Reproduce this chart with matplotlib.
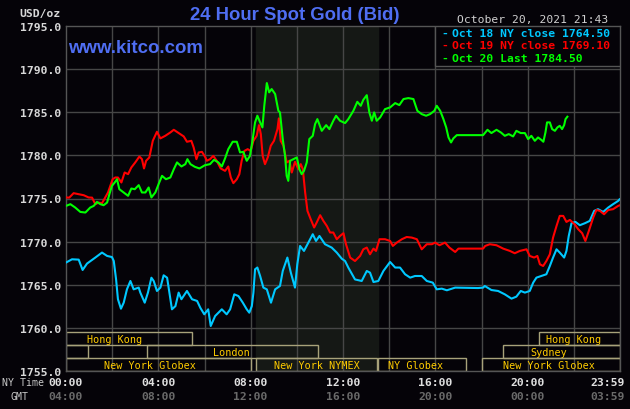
"""24 hour spot gold chart, kitco style."""
import matplotlib
matplotlib.use("Agg")
import matplotlib.pyplot as plt
from matplotlib.patches import Rectangle
from matplotlib.transforms import blended_transform_factory

# ---- data (hours NY time, USD/oz) ----
oct18_t = [0.00, 0.26, 0.55, 0.72, 0.91, 1.27, 1.56, 1.78, 1.99, 2.07, 2.17, 2.25, 2.38, 2.50,
           2.64, 2.79, 2.93, 3.15, 3.22, 3.41, 3.55, 3.70, 3.80, 3.94, 4.09, 4.23, 4.38, 4.48,
           4.59, 4.74, 4.88, 5.00, 5.24, 5.46, 5.68, 5.82, 5.99, 6.16, 6.27, 6.46, 6.75, 6.96,
           7.11, 7.29, 7.47, 7.66, 7.83, 7.94, 8.05, 8.12, 8.19, 8.29, 8.41, 8.55, 8.70, 8.88,
           9.06, 9.27, 9.39, 9.59, 9.74, 9.92, 10.02, 10.14, 10.31, 10.50, 10.69, 10.83, 10.98,
           11.22, 11.51, 11.73, 11.95, 12.09, 12.23, 12.52, 12.81, 13.03, 13.17, 13.32, 13.53,
           13.75, 14.04, 14.26, 14.47, 14.69, 14.91, 15.12, 15.41, 15.63, 15.89, 16.06, 16.28,
           16.50, 16.86, 17.85, 18.07, 18.14, 18.43, 18.72, 19.01, 19.30, 19.51, 19.70, 19.88,
           20.09, 20.24, 20.38, 20.59, 20.81, 20.96, 21.10, 21.25, 21.39, 21.58, 21.68, 21.78,
           21.90, 22.07, 22.26, 22.48, 22.69, 22.88, 23.05, 23.27, 23.49, 23.70, 23.92, 23.98]
oct18_p = [1767.56, 1767.94, 1767.90, 1766.70, 1767.44, 1768.14, 1768.72, 1768.33, 1768.20,
           1767.74, 1765.60, 1763.30, 1762.20, 1762.90, 1764.45, 1765.42, 1764.45, 1764.65,
           1764.07, 1762.90, 1764.07, 1765.80, 1765.42, 1764.26, 1764.65, 1766.08, 1765.80,
           1764.07, 1762.13, 1762.50, 1764.07, 1763.30, 1764.26, 1763.30, 1763.10, 1762.30,
           1761.55, 1762.13, 1760.19, 1761.35, 1762.13, 1761.55, 1762.13, 1763.87, 1763.67,
           1762.90, 1762.13, 1761.74, 1762.50, 1764.07, 1766.78, 1766.98, 1766.00, 1764.65,
           1764.45, 1762.90, 1764.45, 1764.84, 1766.58, 1768.14, 1766.39, 1764.65, 1767.36,
           1769.49, 1768.91, 1769.88, 1770.85, 1770.07, 1770.65, 1769.69, 1769.30, 1768.72,
           1768.00, 1767.74, 1766.98, 1765.60, 1765.42, 1766.58, 1766.39, 1765.30, 1765.42,
           1766.58, 1767.63, 1766.98, 1766.98, 1766.20, 1765.81, 1766.00, 1766.00, 1765.42,
           1765.23, 1764.45, 1764.53, 1764.34, 1764.65, 1764.60, 1764.65, 1764.84, 1764.37,
           1764.26, 1763.87, 1763.37, 1763.60, 1764.26, 1764.07, 1764.26, 1765.23, 1765.81,
           1766.00, 1766.20, 1767.16, 1768.14, 1769.10, 1768.72, 1768.14, 1768.91, 1770.65,
           1772.13, 1772.28, 1771.90, 1772.13, 1772.40, 1773.56, 1773.76, 1773.44, 1773.95,
           1774.34, 1774.72, 1774.90]

oct19_t = [0.00, 0.14, 0.33, 0.55, 0.77, 0.98, 1.13, 1.27, 1.42, 1.56, 1.70, 1.82, 1.92, 2.02,
           2.14, 2.25, 2.40, 2.54, 2.69, 2.83, 3.00, 3.18, 3.29, 3.38, 3.47, 3.61, 3.76, 3.94,
           4.09, 4.30, 4.52, 4.67, 4.88, 5.10, 5.24, 5.43, 5.53, 5.65, 5.75, 5.89, 6.04, 6.10,
           6.24, 6.38, 6.53, 6.70, 6.89, 7.03, 7.14, 7.25, 7.40, 7.51, 7.61, 7.73, 7.87, 8.00,
           8.12, 8.26, 8.36, 8.44, 8.52, 8.62, 8.74, 8.87, 9.01, 9.16, 9.22, 9.30, 9.42, 9.56,
           9.68, 9.78, 9.92, 10.07, 10.17, 10.26, 10.36, 10.46, 10.60, 10.75, 10.86, 11.01,
           11.15, 11.30, 11.44, 11.58, 11.73, 11.87, 12.02, 12.13, 12.31, 12.52, 12.74, 12.88,
           13.03, 13.17, 13.32, 13.43, 13.58, 13.82, 14.04, 14.16, 14.33, 14.55, 14.76, 14.98,
           15.20, 15.41, 15.63, 15.85, 15.99, 16.18, 16.42, 16.61, 16.86, 17.00, 18.07, 18.16,
           18.36, 18.65, 18.94, 19.23, 19.44, 19.66, 19.95, 20.09, 20.28, 20.42, 20.53, 20.67,
           20.81, 20.96, 21.10, 21.25, 21.39, 21.54, 21.68, 21.83, 22.04, 22.19, 22.36, 22.50,
           22.65, 22.84, 22.98, 23.13, 23.31, 23.49, 23.70, 23.92, 23.98]
oct19_p = [1775.12, 1775.10, 1775.62, 1775.50, 1775.38, 1775.12, 1775.10, 1774.34, 1774.53,
           1774.45, 1775.12, 1775.70, 1776.47, 1777.24, 1777.44, 1777.44, 1776.86, 1778.02,
           1777.83, 1778.60, 1779.19, 1779.88, 1779.57, 1778.49, 1779.38, 1779.77, 1781.70,
           1782.75, 1781.98, 1782.28, 1782.67, 1782.98, 1782.60, 1782.21, 1781.59, 1781.70,
           1780.93, 1779.57, 1780.35, 1780.42, 1779.77, 1779.38, 1779.57, 1779.95, 1779.38,
           1778.49, 1778.21, 1778.72, 1777.44, 1776.78, 1777.24, 1777.83, 1779.38, 1780.53,
           1780.73, 1780.53, 1781.70, 1782.28, 1783.52, 1782.48, 1779.95, 1778.99, 1779.77,
           1781.12, 1781.70, 1783.06, 1784.30, 1781.70, 1781.12, 1779.19, 1779.38, 1778.02,
           1779.26, 1778.40, 1778.99, 1778.40, 1775.70, 1773.56, 1772.60, 1771.63, 1772.21,
           1773.06, 1772.40, 1771.81, 1771.05, 1771.05, 1770.27, 1770.65, 1770.97, 1769.69,
           1768.14, 1767.74, 1768.33, 1769.10, 1769.30, 1768.52, 1769.18, 1768.91, 1770.27,
           1770.27, 1770.07, 1769.49, 1769.88, 1770.27, 1770.53, 1770.46, 1770.27, 1769.10,
           1769.69, 1769.69, 1769.88, 1769.57, 1769.88, 1769.30, 1768.79, 1769.18, 1769.18,
           1769.49, 1769.69, 1769.57, 1769.18, 1768.91, 1768.64, 1768.91, 1769.10, 1768.33,
           1768.14, 1768.33, 1767.36, 1767.16, 1767.74, 1768.52, 1770.46, 1771.81, 1772.98,
           1772.98, 1772.28, 1772.51, 1772.00, 1771.43, 1770.97, 1770.07, 1771.24, 1772.79,
           1773.67, 1773.56, 1773.17, 1773.67, 1773.76, 1774.14, 1774.20]

oct20_t = [0.00, 0.19, 0.40, 0.62, 0.84, 1.05, 1.20, 1.34, 1.49, 1.63, 1.78, 1.88, 1.99, 2.11,
           2.21, 2.31, 2.50, 2.69, 2.83, 2.98, 3.15, 3.29, 3.44, 3.58, 3.70, 3.87, 4.04, 4.16,
           4.33, 4.52, 4.67, 4.81, 5.00, 5.17, 5.26, 5.39, 5.58, 5.78, 6.02, 6.24, 6.41, 6.60,
           6.75, 6.89, 7.03, 7.22, 7.40, 7.54, 7.68, 7.83, 7.97, 8.09, 8.19, 8.29, 8.41, 8.51,
           8.59, 8.70, 8.80, 8.91, 9.06, 9.20, 9.27, 9.39, 9.49, 9.56, 9.63, 9.71, 9.85, 10.00,
           10.11, 10.21, 10.31, 10.43, 10.54, 10.69, 10.79, 10.89, 11.08, 11.27, 11.41, 11.58,
           11.70, 11.87, 12.09, 12.23, 12.45, 12.62, 12.77, 12.88, 13.03, 13.14, 13.25, 13.35,
           13.46, 13.61, 13.82, 14.04, 14.26, 14.44, 14.62, 14.83, 15.05, 15.22, 15.41, 15.60,
           15.77, 15.96, 16.06, 16.21, 16.35, 16.47, 16.57, 16.68, 16.78, 16.93, 18.07, 18.26,
           18.43, 18.65, 18.84, 19.01, 19.18, 19.37, 19.51, 19.70, 19.88, 20.02, 20.16, 20.31,
           20.45, 20.59, 20.68, 20.77, 20.84, 20.96, 21.06, 21.18, 21.29, 21.39, 21.49, 21.58,
           21.64, 21.72]
oct20_p = [1774.14, 1774.34, 1773.95, 1773.44, 1773.37, 1773.95, 1774.14, 1774.60, 1774.34,
           1774.22, 1774.53, 1775.50, 1776.47, 1776.86, 1777.24, 1776.08, 1775.70, 1775.31,
           1776.16, 1776.08, 1776.55, 1775.70, 1775.70, 1776.28, 1775.12, 1775.70, 1776.86,
           1777.63, 1777.24, 1777.44, 1778.40, 1779.19, 1778.72, 1778.99, 1779.57, 1778.99,
           1778.68, 1778.49, 1778.87, 1778.99, 1779.49, 1779.19, 1778.72, 1779.65, 1780.73,
           1781.59, 1781.59, 1780.35, 1780.42, 1779.38, 1779.95, 1781.90, 1783.84, 1784.61,
           1783.84, 1783.26, 1785.77, 1788.41, 1787.33, 1787.71, 1787.13, 1785.19, 1785.00,
           1781.90, 1779.95, 1777.63, 1777.05, 1779.38, 1779.57, 1779.77, 1778.40, 1777.83,
           1778.21, 1779.19, 1781.90, 1782.28, 1783.64, 1784.22, 1782.86, 1783.52, 1783.06,
           1784.03, 1784.61, 1784.03, 1783.76, 1784.22, 1785.19, 1786.23, 1785.77, 1786.46,
           1787.00, 1785.00, 1784.03, 1785.00, 1784.03, 1784.42, 1785.38, 1785.58, 1786.08,
           1785.85, 1786.55, 1786.66, 1786.55, 1785.19, 1784.80, 1784.61, 1784.80, 1785.19,
           1785.77, 1785.19, 1784.22, 1783.26, 1782.09, 1781.51, 1781.98, 1782.36, 1782.36,
           1782.98, 1782.60, 1782.98, 1782.67, 1782.28, 1782.48, 1782.21, 1782.86, 1782.60,
           1782.60, 1781.90, 1782.28, 1781.70, 1782.09, 1781.81, 1781.59, 1782.67, 1783.84,
           1783.84, 1783.06, 1782.86, 1783.26, 1783.44, 1783.06, 1783.52, 1784.22, 1784.50]

series_labels = ["Oct 18 NY close 1764.50", "Oct 19 NY close 1769.10", "Oct 20 Last 1784.50"]
series_colors = ["#00c8ff", "#ff0000", "#00ff00"]

y_ticks = [1755.0, 1760.0, 1765.0, 1770.0, 1775.0, 1780.0, 1785.0, 1790.0, 1795.0]
ny_hours = [0, 4, 8, 12, 16, 20, 23.98]
ny_labels = ["00:00", "04:00", "08:00", "12:00", "16:00", "20:00", "23:59"]
gmt_labels = ["04:00", "08:00", "12:00", "16:00", "20:00", "00:00", "03:59"]

# market sessions: (row, start hour, end hour, label, label hour)
sessions = [
    (0, 0.0, 5.47, "Hong Kong", 2.12),
    (0, 20.47, 24.0, "Hong Kong", 22.0),
    (1, 0.0, 0.97, "", 0.5),
    (1, 3.50, 10.93, "London", 7.15),
    (1, 18.95, 24.0, "Sydney", 20.93),
    (2, 0.0, 8.03, "New York Globex", 3.64),
    (2, 8.25, 13.47, "New York NYMEX", 10.88),
    (2, 13.50, 17.32, "NY Globex", 15.16),
    (2, 18.0, 24.0, "New York Globex", 20.93),
]
row_bottoms = [1757.98, 1756.47, 1754.95]
row_height = 1.48

BG = "#050308"
GRID = "#464646"
W, H = 630, 410


def fx(px):
    return px / W


def fy(py):
    return 1 - py / H


fig = plt.figure(figsize=(6.3, 4.1), dpi=100, facecolor=BG)
ax = fig.add_axes([fx(66), fy(371.7), fx(620) - fx(66), fy(27.3) - fy(371.7)])
ax.set_facecolor(BG)
ax.set_xlim(0, 24)
ax.set_ylim(1755, 1795)

# NYMEX shaded period
ax.axvspan(8.25, 13.5, color="#151815", zorder=0)

for v in range(2, 24, 2):
    ax.axvline(v, color=GRID, lw=1.0, zorder=1)
for v in y_ticks[1:-1]:
    ax.axhline(v, color=GRID, lw=1.0, zorder=1)

for sp in ax.spines.values():
    sp.set_color("#555555")
    sp.set_linewidth(1.0)

mono = "DejaVu Sans Mono"
ax.set_yticks(y_ticks)
ax.set_yticklabels([f"{v:.1f}" for v in y_ticks], fontfamily=mono,
                   fontweight="bold", fontsize=8.2, color="#d8d8d8")
ax.tick_params(axis="y", length=0, pad=3.5)
ax.set_xticks([])

# sessions
for row, t0, t1, name, tl in sessions:
    y0 = row_bottoms[row]
    ax.add_patch(Rectangle((t0, y0), t1 - t0, row_height, fill=False,
                           edgecolor="#a8a27a", lw=1.0, zorder=2))
    if name:
        ax.text(tl, y0 + row_height / 2, name, color="#ffcc00", fontsize=7.3,
                fontfamily=mono, ha="center", va="center", zorder=2)

# price lines
for t, p, c in [(oct18_t, oct18_p, series_colors[0]),
                (oct19_t, oct19_p, series_colors[1]),
                (oct20_t, oct20_p, series_colors[2])]:
    ax.plot(t, p, color=c, lw=1.5, zorder=3)

# legend box
ax.add_patch(Rectangle((16.0, 1790.42), 8.0, 4.58, facecolor=BG,
                       edgecolor="#555555", lw=1.0, zorder=5))
for i, (lab, c) in enumerate(zip(series_labels, series_colors)):
    yy = [34, 46, 59][i]
    fig.text(fx(441.5), fy(yy), "-", color=c, fontsize=8.2, fontfamily=mono,
             fontweight="bold", va="center", ha="left")
    fig.text(fx(451.5), fy(yy), lab, color=c, fontsize=8.2, fontfamily=mono,
             fontweight="bold", va="center", ha="left")

# x labels (NY time and GMT rows)
trans = blended_transform_factory(ax.transData, fig.transFigure)
for h, ny, gmt in zip(ny_hours, ny_labels, gmt_labels):
    ha = "right" if h > 23 else "center"
    xx = 24.2 if h > 23 else h
    ax.text(xx, fy(383.5), ny, transform=trans, color="#e0e0e0", fontsize=8.2,
            fontfamily=mono, fontweight="bold", ha=ha, va="center")
    ax.text(xx, fy(397), gmt, transform=trans, color="#6a6a6a", fontsize=8.2,
            fontfamily=mono, fontweight="bold", ha=ha, va="center")
fig.text(fx(2), fy(383.5), "NY Time", color="#c8c8c8", fontsize=7.1,
         fontfamily=mono, ha="left", va="center")
fig.text(fx(10.5), fy(397), "GMT", color="#c8c8c8", fontsize=7.1,
         fontfamily=mono, ha="left", va="center")

# headers
fig.text(fx(61), fy(13.5), "USD/oz", color="#d8d8d8", fontsize=8.2,
         fontfamily=mono, fontweight="bold", ha="right", va="center")
fig.text(fx(295), fy(15.5), "24 Hour Spot Gold (Bid)", color="#4f6ef2",
         fontsize=13.3, fontfamily="Liberation Sans", fontweight="bold",
         ha="center", va="center")
fig.text(fx(68), fy(48.5), "www.kitco.com", color="#4f6ef2", fontsize=13.4,
         fontfamily="Liberation Sans", fontweight="bold", ha="left", va="center")
fig.text(fx(608), fy(20), "October 20, 2021 21:43", color="#d0d0d0",
         fontsize=8.2, fontfamily=mono, ha="right", va="center")

fig.savefig("out.png", dpi=100, facecolor=BG)
